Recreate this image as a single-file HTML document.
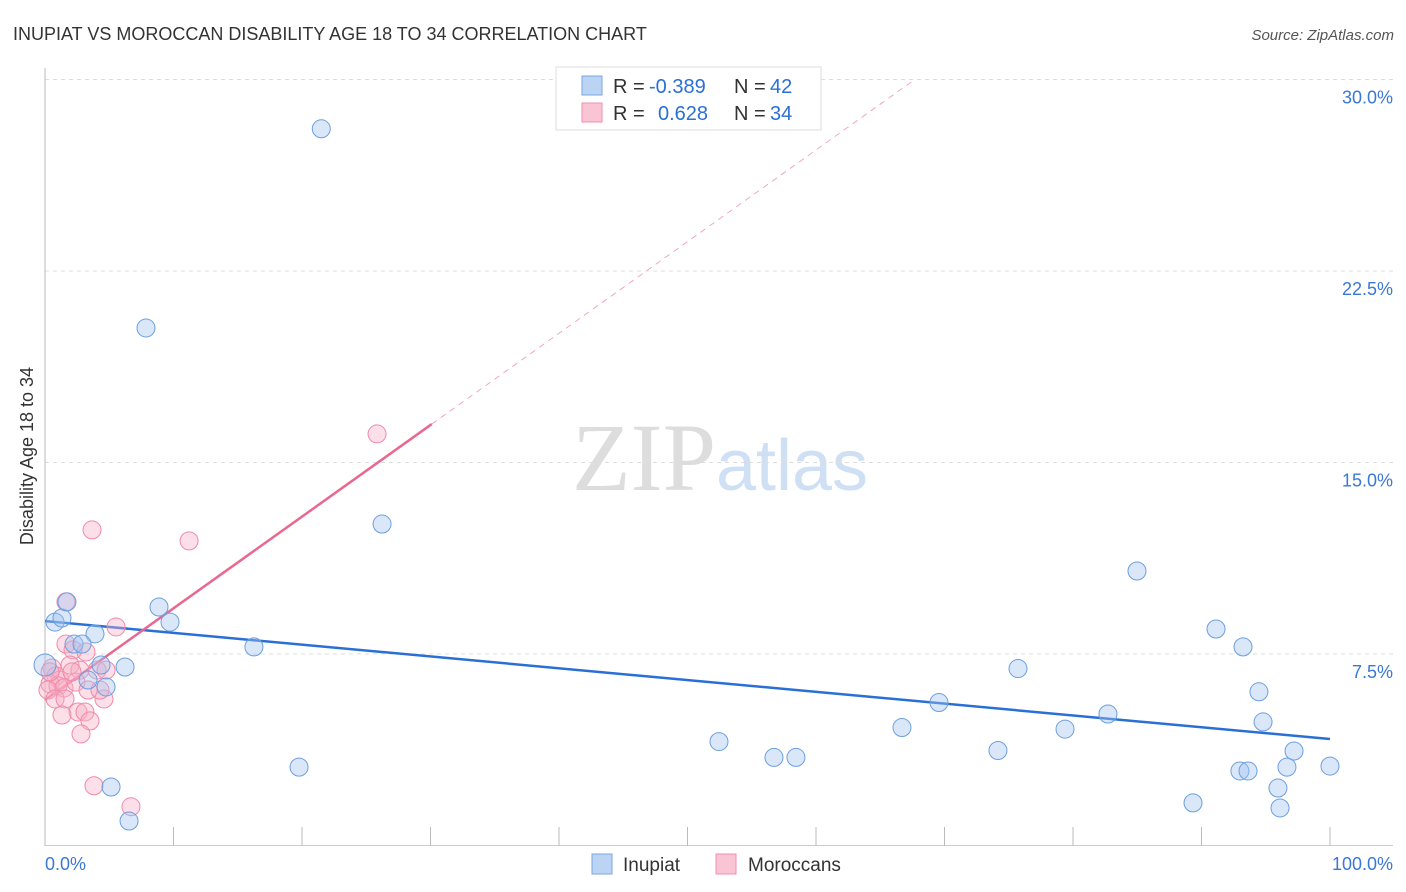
<!DOCTYPE html>
<html><head><meta charset="utf-8"><style>
body{margin:0;background:#fff;font-family:"Liberation Sans",sans-serif}
svg{display:block}
</style></head><body>
<svg id="chart" width="1406" height="892" xmlns="http://www.w3.org/2000/svg" font-family="Liberation Sans, sans-serif">
<text x="13" y="40" font-size="18" fill="#333">INUPIAT VS MOROCCAN DISABILITY AGE 18 TO 34 CORRELATION CHART</text>
<text x="1394" y="40" font-size="15" fill="#555" text-anchor="end" font-style="italic">Source: ZipAtlas.com</text>
<text x="720" y="490" font-size="96" text-anchor="middle" font-family="Liberation Serif, serif" fill="#ddd">ZIP<tspan fill="#cfe0f5" font-family="Liberation Sans, sans-serif" font-size="72">atlas</tspan></text>
<text transform="translate(33,456) rotate(-90)" font-size="18" fill="#333" text-anchor="middle">Disability Age 18 to 34</text>
<g id="grid"></g><g id="axes"></g><g id="trends"></g><g id="points"></g>
<g>
<rect x="556" y="67" width="265" height="63" fill="#fff" stroke="#ddd"/>
<rect x="582" y="76" width="20" height="19" fill="#bcd4f4" stroke="#7aa6e0"/>
<rect x="582" y="103" width="20" height="19" fill="#f9c4d3" stroke="#f090ae"/>
<text x="613" y="93" font-size="20" fill="#333">R =</text>
<text x="649" y="93" font-size="20" fill="#2a6fd6">-0.389</text>
<text x="734" y="93" font-size="20" fill="#333">N =</text>
<text x="770" y="93" font-size="20" fill="#2a6fd6">42</text>
<text x="613" y="120" font-size="20" fill="#333">R =</text>
<text x="658" y="120" font-size="20" fill="#2a6fd6">0.628</text>
<text x="734" y="120" font-size="20" fill="#333">N =</text>
<text x="770" y="120" font-size="20" fill="#2a6fd6">34</text>
</g>
<g>
<rect x="592" y="854" width="20" height="20" fill="#bcd4f4" stroke="#7aa6e0"/>
<text x="623" y="871" font-size="19" fill="#333">Inupiat</text>
<rect x="716" y="854" width="20" height="20" fill="#f9c4d3" stroke="#f090ae"/>
<text x="748" y="871" font-size="19" fill="#333">Moroccans</text>
</g>
</svg>
<script>
const yTicks=[7.5,15,22.5,30];
const yTickLabels=["7.5%","15.0%","22.5%","30.0%"];
const xTickLabels=["0.0%","100.0%"];
const inupiatX=[21.5,7.86,0.78,1.32,1.71,3.89,2.26,2.88,4.36,6.23,3.35,4.75,8.87,9.73,16.26,26.23,19.77,5.14,6.54,52.45,56.73,58.44,66.69,69.57,74.16,75.72,79.38,82.72,84.98,91.13,93.23,94.47,94.79,97.2,96.65,92.99,93.62,95.95,89.34,96.11,100,0];
const inupiatY=[28.07,20.27,8.75,8.91,9.54,8.29,7.89,7.89,7.07,6.99,6.48,6.21,9.34,8.75,7.78,12.59,3.07,2.29,0.96,4.07,3.45,3.45,4.62,5.6,3.72,6.93,4.56,5.15,10.75,8.48,7.78,6.02,4.84,3.7,3.07,2.92,2.92,2.25,1.67,1.47,3.11,7.07];
const morX=[25.84,3.66,11.21,5.53,1.63,1.63,2.18,3.19,1.95,2.72,4.05,4.75,0.54,0.86,1.17,0.39,1.01,0.23,1.48,2.41,3.35,4.59,0.78,1.56,2.57,3.11,1.32,3.5,2.8,3.81,6.69,0.39,2.1,4.28];
const morY=[16.12,12.36,11.93,8.56,9.54,7.89,7.66,7.58,7.07,6.87,6.87,6.87,6.95,6.64,6.48,6.33,6.25,6.09,6.17,6.4,6.09,5.74,5.74,5.74,5.23,5.23,5.11,4.88,4.37,2.34,1.52,6.8,6.8,6.09];
const inupiatTrend=[8.79,4.17];
const morTrend=[5.70,0.359];
const NS="http://www.w3.org/2000/svg";
const X=v=>45+v*12.85, Y=v=>845.5-v*25.533;
function mk(t,a,p){const e=document.createElementNS(NS,t);for(const k in a)e.setAttribute(k,a[k]);document.getElementById(p).appendChild(e);return e;}
yTicks.forEach((t,i)=>{
 const g=mk('line',{x1:45,x2:1393,y1:Y(t),y2:Y(t),stroke:'#ddd','stroke-dasharray':'4,4'},'grid');
 
 
 const l=mk('text',{x:1393,y:Y(t)+24,'font-size':18,fill:'#3a78d6','text-anchor':'end'},'axes');
 l.textContent=yTickLabels[i];
 
 
});
let ax=mk('line',{x1:45,x2:45,y1:68,y2:846,stroke:'#bbb'},'axes');


ax=mk('line',{x1:45,x2:1393,y1:845.5,y2:845.5,stroke:'#ccc'},'axes');


for(let i=1;i<=10;i++){const t=mk('line',{x1:X(i*10),x2:X(i*10),y1:827,y2:846,stroke:'#bbb'},'axes');
 
 }
[[0,'start',45],[100,'end',1393]].forEach((d,i)=>{const t=mk('text',{x:d[2],y:870,'font-size':18,fill:'#3a78d6','text-anchor':d[1]},'axes');t.textContent=xTickLabels[i];
 
 });
let tl=mk('line',{x1:X(0),y1:Y(inupiatTrend[0]),x2:X(100),y2:Y(inupiatTrend[1]),stroke:'#2a6fd6','stroke-width':2.5},'trends');


const xe=(30-morTrend[0])/morTrend[1];
tl=mk('line',{x1:X(0),y1:Y(morTrend[0]),x2:X(30.1),y2:Y(morTrend[0]+morTrend[1]*30.1),stroke:'#e86890','stroke-width':2.5},'trends');


tl=mk('line',{x1:X(30.1),y1:Y(morTrend[0]+morTrend[1]*30.1),x2:X(xe),y2:Y(30),stroke:'#f0a8bc','stroke-width':1,'stroke-dasharray':'6,5'},'trends');


morX.forEach((v,i)=>{const c=mk('circle',{cx:X(v),cy:Y(morY[i]),r:9,fill:'rgba(248,175,198,0.4)',stroke:'#f08aa8','stroke-width':1},'points');
 
 });
inupiatX.forEach((v,i)=>{const c=mk('circle',{cx:X(v),cy:Y(inupiatY[i]),r:i==41?11:9,fill:'rgba(160,196,240,0.4)',stroke:'#6c9fe0','stroke-width':1},'points');
 
 });
</script>
</body></html>
